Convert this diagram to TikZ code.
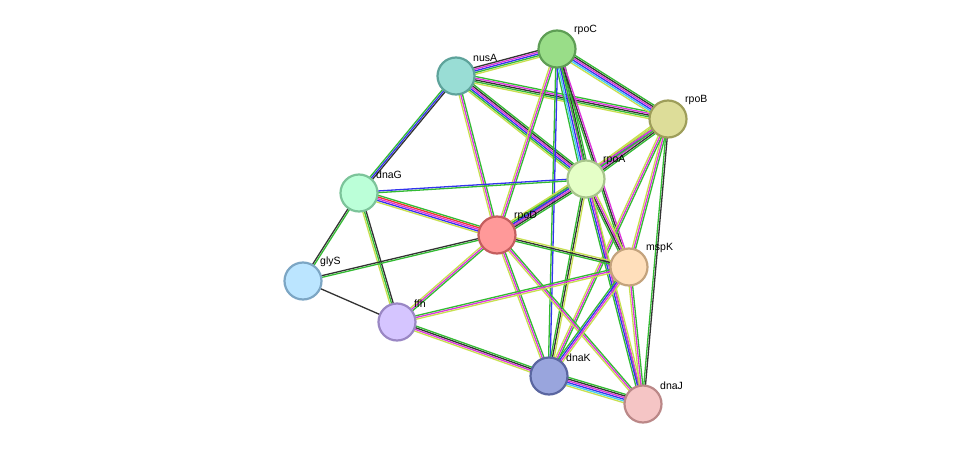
\documentclass[tikz,border=0pt]{standalone}
\usepackage{fontspec}
\setmainfont{Liberation Sans}
\usetikzlibrary{calc}
\definecolor{sg}{HTML}{33BB33}
\definecolor{sb}{HTML}{3333EE}
\definecolor{sm}{HTML}{DD33DD}
\definecolor{sy}{HTML}{C8E050}
\definecolor{sc}{HTML}{44CCEE}
\definecolor{sk}{HTML}{333333}
\definecolor{sr}{HTML}{EE3333}
\definecolor{fC}{HTML}{99DD88}\definecolor{bC}{HTML}{5E9E55}
\definecolor{fN}{HTML}{99DDD5}\definecolor{bN}{HTML}{5EA39B}
\definecolor{fB}{HTML}{DDDD99}\definecolor{bB}{HTML}{9E9E5A}
\definecolor{fA}{HTML}{E5FFC7}\definecolor{bA}{HTML}{A8C58C}
\definecolor{fG}{HTML}{BBFFD8}\definecolor{bG}{HTML}{7CC49A}
\definecolor{fD}{HTML}{FF9999}\definecolor{bD}{HTML}{C45E5E}
\definecolor{fM}{HTML}{FFDFBB}\definecolor{bM}{HTML}{C4A37D}
\definecolor{fS}{HTML}{BBE5FF}\definecolor{bS}{HTML}{7CA6C4}
\definecolor{fF}{HTML}{D5C5FF}\definecolor{bF}{HTML}{9A87C4}
\definecolor{fK}{HTML}{99A5DD}\definecolor{bK}{HTML}{5A66A0}
\definecolor{fJ}{HTML}{F5C5C5}\definecolor{bJ}{HTML}{BB8888}
\newcommand{\edg}[4]{%
  \foreach \cc [count=\ii] in {#4}{%
    \pgfmathsetmacro{\oo}{(\ii-(#3+1)/2)*1.7}
    \draw[\cc,line width=1.3pt] ($(#1)!\oo pt!90:(#2)$) -- ($(#2)!\oo pt!-90:(#1)$);
  }}
\tikzset{
  prot/.style={circle,minimum size=37pt,inner sep=0pt,fill=f#1,draw=b#1,line width=2.2pt},
  lab/.style={font=\fontsize{10.5}{12}\selectfont,anchor=south west,inner sep=1pt}
}
\begin{document}
\begin{tikzpicture}[x=1pt,y=-1pt]
\useasboundingbox (0,0) rectangle (975,450);
\coordinate (rpoC) at (557,49);
\coordinate (nusA) at (456,76);
\coordinate (rpoB) at (668,119);
\coordinate (rpoA) at (586,179);
\coordinate (dnaG) at (359,193);
\coordinate (rpoD) at (497,235);
\coordinate (mspK) at (629,267);
\coordinate (glyS) at (303,281);
\coordinate (ffh) at (397,322);
\coordinate (dnaK) at (549,376);
\coordinate (dnaJ) at (643,404);
\edg{nusA}{rpoC}{5}{sy,sg,sb,sm,sk}
\edg{nusA}{rpoB}{5}{sy,sg,sk,sm,sg}
\edg{nusA}{rpoA}{6}{sy,sg,sb,sm,sk,sg}
\edg{nusA}{rpoD}{3}{sy,sm,sg}
\edg{nusA}{dnaG}{3}{sg,sb,sk}
\edg{rpoC}{rpoB}{6}{sy,sc,sb,sm,sk,sg}
\edg{rpoC}{rpoA}{6}{sg,sc,sb,sm,sk,sg}
\edg{rpoC}{rpoD}{3}{sy,sm,sg}
\edg{rpoC}{mspK}{3}{sg,sk,sm}
\edg{rpoC}{dnaK}{2}{sg,sb}
\edg{rpoC}{dnaJ}{1}{sg}
\edg{rpoB}{rpoA}{6}{sy,sg,sb,sm,sk,sg}
\edg{rpoB}{rpoD}{3}{sy,sm,sg}
\edg{rpoB}{mspK}{3}{sy,sm,sg}
\edg{rpoB}{dnaK}{3}{sy,sm,sg}
\edg{rpoB}{dnaJ}{2}{sg,sk}
\edg{rpoA}{dnaG}{2}{sb,sg}
\edg{rpoA}{rpoD}{6}{sy,sg,sb,sm,sk,sg}
\edg{rpoA}{mspK}{4}{sg,sk,sm,sy}
\edg{rpoA}{dnaK}{3}{sg,sk,sy}
\edg{rpoA}{dnaJ}{4}{sg,sb,sm,sy}
\edg{dnaG}{rpoD}{5}{sy,sb,sm,sr,sg}
\edg{dnaG}{glyS}{2}{sk,sg}
\edg{dnaG}{ffh}{3}{sy,sg,sk}
\edg{rpoD}{glyS}{2}{sk,sg}
\edg{rpoD}{ffh}{3}{sy,sm,sg}
\edg{rpoD}{mspK}{3}{sg,sk,sy}
\edg{rpoD}{dnaK}{3}{sy,sm,sg}
\edg{rpoD}{dnaJ}{3}{sy,sm,sg}
\edg{glyS}{ffh}{1}{sk}
\edg{ffh}{mspK}{3}{sy,sm,sg}
\edg{ffh}{dnaK}{4}{sy,sm,sk,sg}
\edg{mspK}{dnaK}{4}{sg,sb,sm,sy}
\edg{mspK}{dnaJ}{3}{sy,sm,sg}
\edg{dnaK}{dnaJ}{6}{sy,sc,sb,sm,sk,sg}
\node[prot=C] (nC) at (rpoC) {};
\node[prot=N] (nN) at (nusA) {};
\node[prot=B] (nB) at (rpoB) {};
\node[prot=A] (nA) at (rpoA) {};
\node[prot=G] (nG) at (dnaG) {};
\node[prot=D] (nD) at (rpoD) {};
\node[prot=M] (nM) at (mspK) {};
\node[prot=S] (nS) at (glyS) {};
\node[prot=F] (nF) at (ffh) {};
\node[prot=K] (nK) at (dnaK) {};
\node[prot=J] (nJ) at (dnaJ) {};
\node[lab] at ($(rpoC)+(16,-13)$) {rpoC};
\node[lab] at ($(nusA)+(16,-13)$) {nusA};
\node[lab] at ($(rpoB)+(16,-13)$) {rpoB};
\node[lab] at ($(rpoA)+(16,-13)$) {rpoA};
\node[lab] at ($(dnaG)+(16,-13)$) {dnaG};
\node[lab] at ($(rpoD)+(16,-13)$) {rpoD};
\node[lab] at ($(mspK)+(16,-13)$) {mspK};
\node[lab] at ($(glyS)+(16,-13)$) {glyS};
\node[lab] at ($(ffh)+(16,-13)$) {ffh};
\node[lab] at ($(dnaK)+(16,-13)$) {dnaK};
\node[lab] at ($(dnaJ)+(16,-13)$) {dnaJ};
\end{tikzpicture}
\end{document}
